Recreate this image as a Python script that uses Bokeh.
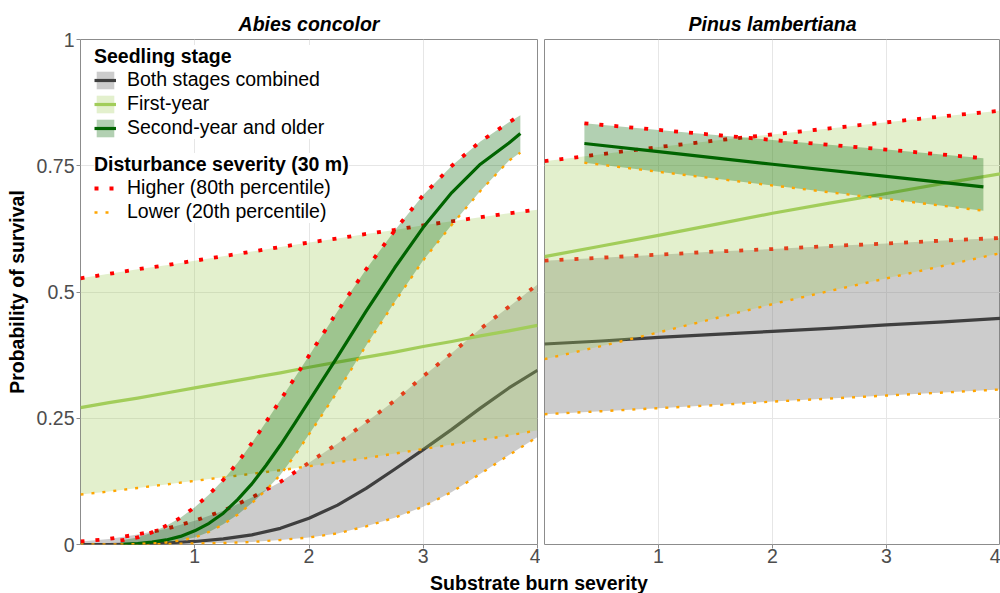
from bokeh.plotting import figure
from bokeh.layouts import row, column
from bokeh.models import FixedTicker, Legend, LegendItem, Div, Range1d
from bokeh.embed import file_html
from bokeh.resources import INLINE

FONT = "Liberation Sans"

# ---------------- text ----------------
panel_titles = ["Abies concolor", "Pinus lambertiana"]
x_axis_title = "Substrate burn severity"
y_axis_title = "Probability of survival"
x_ticks = [1, 2, 3, 4]
y_ticks = [0, 0.25, 0.5, 0.75, 1]
y_tick_labels = ["0", "0.25", "0.5", "0.75", "1"]
stage_title = "Seedling stage"
stage_labels = ["Both stages combined", "First-year", "Second-year and older"]
severity_title = "Disturbance severity (30 m)"
severity_labels = ["Higher (80th percentile)", "Lower (20th percentile)"]

# ---------------- Abies concolor ----------------
abco_x = [0, 0.25, 0.5, 0.75, 1.0, 1.25, 1.5, 1.75, 2.0, 2.25, 2.5, 2.75, 3.0, 3.25, 3.5, 3.75, 4.0]
abco_both_mid = [0.0, 0.0, 0.001, 0.003, 0.006, 0.011, 0.019, 0.032, 0.052, 0.078, 0.111, 0.149,
                 0.188, 0.228, 0.27, 0.31, 0.345]
abco_both_high = [0.006, 0.011, 0.02, 0.031, 0.047, 0.067, 0.093, 0.124, 0.162, 0.2, 0.242, 0.285,
                  0.333, 0.379, 0.427, 0.471, 0.515]
abco_both_low = [0.0, 0.0, 0.0, 0.001, 0.002, 0.003, 0.005, 0.009, 0.014, 0.022, 0.036, 0.053,
                 0.075, 0.104, 0.14, 0.177, 0.213]
abco_first_mid = [0.271, 0.281, 0.29, 0.30, 0.31, 0.32, 0.33, 0.34, 0.351, 0.361, 0.371, 0.381,
                  0.392, 0.402, 0.413, 0.423, 0.434]
abco_first_high = [0.527, 0.536, 0.545, 0.553, 0.562, 0.571, 0.58, 0.589, 0.598, 0.606, 0.615, 0.623,
                   0.632, 0.640, 0.648, 0.656, 0.663]
abco_first_low = [0.099, 0.105, 0.112, 0.119, 0.126, 0.133, 0.14, 0.147, 0.155, 0.163, 0.171, 0.18,
                  0.189, 0.198, 0.207, 0.216, 0.226]
abco_second_x = [0.35, 0.5, 0.625, 0.75, 0.875, 1.0, 1.125, 1.25, 1.375, 1.5, 1.625, 1.75, 1.875, 2.0,
                 2.25, 2.5, 2.75, 3.0, 3.25, 3.5, 3.75, 3.85]
abco_second_mid = [0.0, 0.002, 0.005, 0.009, 0.016, 0.027, 0.042, 0.062, 0.089, 0.12, 0.157, 0.197,
                   0.24, 0.284, 0.372, 0.462, 0.548, 0.628, 0.697, 0.753, 0.795, 0.814]
abco_second_high = [0.008, 0.014, 0.024, 0.037, 0.053, 0.074, 0.099, 0.128, 0.162, 0.201, 0.243, 0.286,
                    0.33, 0.374, 0.462, 0.545, 0.622, 0.692, 0.75, 0.798, 0.836, 0.85]
abco_second_low = [0.0, 0.001, 0.002, 0.004, 0.008, 0.014, 0.025, 0.04, 0.059, 0.082, 0.108, 0.138,
                   0.176, 0.218, 0.303, 0.394, 0.48, 0.563, 0.633, 0.7, 0.76, 0.776]

# ---------------- Pinus lambertiana ----------------
pila_x = [0, 0.5, 1.0, 1.5, 2.0, 2.5, 3.0, 3.5, 4.0]
pila_both_mid = [0.397, 0.403, 0.41, 0.416, 0.422, 0.428, 0.435, 0.441, 0.448]
pila_both_high = [0.562, 0.568, 0.574, 0.58, 0.585, 0.591, 0.596, 0.602, 0.607]
pila_both_low = [0.258, 0.264, 0.27, 0.276, 0.283, 0.289, 0.295, 0.301, 0.307]
pila_first_mid = [0.570, 0.591, 0.612, 0.634, 0.656, 0.676, 0.695, 0.715, 0.734]
pila_first_high = [0.759, 0.773, 0.787, 0.8, 0.812, 0.824, 0.836, 0.848, 0.859]
pila_first_low = [0.367, 0.393, 0.42, 0.448, 0.476, 0.502, 0.527, 0.552, 0.577]
pila_second_x = [0.35, 1.0, 2.0, 3.0, 3.85]
pila_second_mid = [0.794, 0.778, 0.753, 0.729, 0.708]
pila_second_high = [0.834, 0.821, 0.801, 0.782, 0.765]
pila_second_low = [0.756, 0.738, 0.711, 0.684, 0.661]

# ---------------- styles ----------------
stage_styles = [
    dict(line="#3f3f3f", fill="#7f7f7f", alpha=0.4),
    dict(line="#a2cd5a", fill="#a2cd5a", alpha=0.3),
    dict(line="#006400", fill="#006400", alpha=0.3),
]
HIGH = dict(line_color="#ff0000", line_width=3.8, line_dash="4 11")
LOW = dict(line_color="#ffa500", line_width=2.4, line_dash="3 8")
BORDER = "#8c8c8c"
TXT = "19.5px"


def build_panel(title, stages, left_border, frame_w, right_border, show_y):
    p = figure(x_range=Range1d(0, 4), y_range=Range1d(0, 1),
               frame_width=frame_w, frame_height=505,
               min_border_left=left_border, min_border_right=right_border,
               min_border_top=39, min_border_bottom=26,
               output_backend="svg", toolbar_location=None,
               background_fill_color="white", border_fill_color="white")
    p.outline_line_color = BORDER
    p.outline_line_width = 1
    p.title.text = title
    p.title.align = "center"
    p.title.text_font = FONT
    p.title.text_font_size = TXT
    p.title.text_font_style = "bold italic"
    p.title.text_color = "#000000"
    p.title.standoff = 10

    p.xaxis.ticker = FixedTicker(ticks=x_ticks)
    p.yaxis.ticker = FixedTicker(ticks=y_ticks)
    p.yaxis.major_label_overrides = {t: s for t, s in zip(y_ticks, y_tick_labels)}
    for ax in list(p.xaxis) + list(p.yaxis):
        ax.axis_line_color = None
        ax.major_tick_line_color = BORDER
        ax.major_tick_out = 4
        ax.major_tick_in = 0
        ax.minor_tick_line_color = None
        ax.major_label_text_font = FONT
        ax.major_label_text_font_size = TXT
        ax.major_label_text_color = "#4d4d4d"
    p.xaxis.major_label_standoff = 0
    p.yaxis.major_label_standoff = 2
    if show_y:
        p.yaxis.axis_label = y_axis_title
        p.yaxis.axis_label_text_font = FONT
        p.yaxis.axis_label_text_font_size = TXT
        p.yaxis.axis_label_text_font_style = "bold"
        p.yaxis.axis_label_text_color = "#000000"
        p.yaxis.axis_label_standoff = 6
    else:
        p.yaxis.visible = False

    p.xgrid.ticker = FixedTicker(ticks=x_ticks)
    p.ygrid.ticker = FixedTicker(ticks=y_ticks)
    p.grid.grid_line_color = "#e6e6e6"
    p.grid.grid_line_width = 1
    p.grid.minor_grid_line_color = None

    handles = []
    for (xs, mid, high, low), st in zip(stages, stage_styles):
        rib = p.varea(x=xs, y1=low, y2=high, fill_color=st["fill"], fill_alpha=st["alpha"])
        ln = p.line(xs, mid, line_color=st["line"], line_width=3.2, line_join="round")
        hi = p.line(xs, high, **HIGH)
        lo = p.line(xs, low, **LOW)
        handles.append((rib, ln, hi, lo))
    return p, handles


pA, hA = build_panel(panel_titles[0], [
    (abco_x, abco_both_mid, abco_both_high, abco_both_low),
    (abco_x, abco_first_mid, abco_first_high, abco_first_low),
    (abco_second_x, abco_second_mid, abco_second_high, abco_second_low),
], 80, 457, 3, True)

pB, hB = build_panel(panel_titles[1], [
    (pila_x, pila_both_mid, pila_both_high, pila_both_low),
    (pila_x, pila_first_mid, pila_first_high, pila_first_low),
    (pila_second_x, pila_second_mid, pila_second_high, pila_second_low),
], 4, 456, 0, False)

legend_common = dict(
    title_text_font=FONT, title_text_font_size=TXT, title_text_font_style="bold",
    title_text_color="#000000", title_standoff=-3,
    label_text_font=FONT, label_text_font_size=TXT, label_text_color="#000000",
    glyph_width=22, glyph_height=22, label_height=22, label_standoff=11,
    spacing=1, padding=6, margin=0, border_line_color=None,
    background_fill_color="white", background_fill_alpha=1.0,
)
leg1 = Legend(title=stage_title,
              items=[LegendItem(label=lab, renderers=[h[0], h[1]]) for lab, h in zip(stage_labels, hA)],
              location=(14, 405), **legend_common)
leg2 = Legend(title=severity_title,
              items=[LegendItem(label=severity_labels[0], renderers=[hA[0][2]]),
                     LegendItem(label=severity_labels[1], renderers=[hA[0][3]])],
              location=(14, 321), **legend_common)
pA.add_layout(leg1)
pA.add_layout(leg2)

xtitle = Div(text=('<div style="width:920px;margin-left:74px;text-align:center;'
                   'font-family:\'Liberation Sans\';font-size:19.5px;font-weight:bold;'
                   'color:#000;line-height:16px;white-space:nowrap">' + x_axis_title + '</div>'),
             width=1000, height=14, styles={"overflow": "visible"})

layout = column(row(pA, pB, spacing=0), xtitle, spacing=0)

with open("out.html", "w") as f:
    f.write(file_html(layout, INLINE))
